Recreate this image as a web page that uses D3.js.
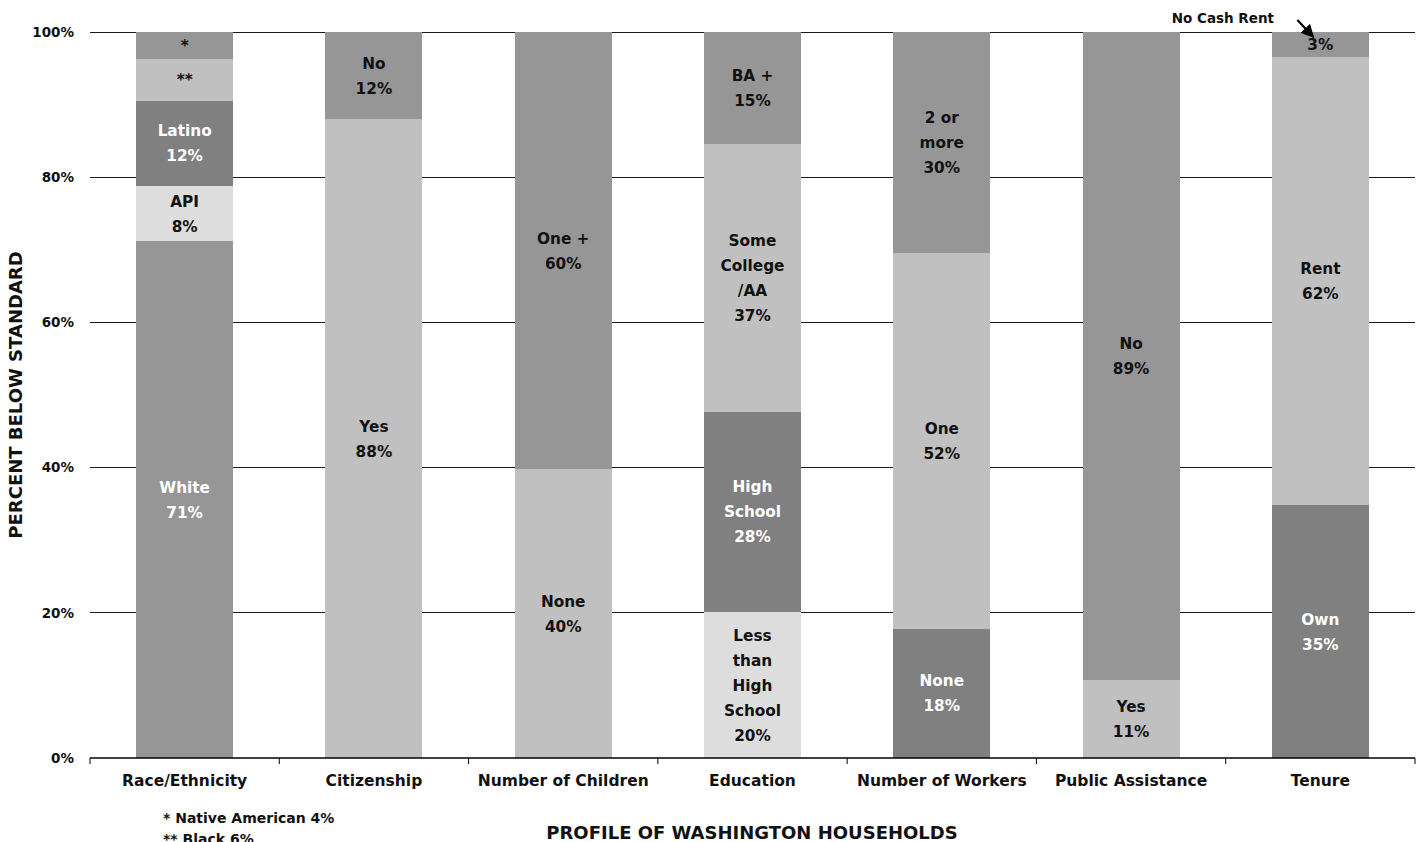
<!DOCTYPE html>
<html>
<head>
<meta charset="utf-8">
<script src="https://cdn.jsdelivr.net/npm/d3@7"></script>
<style>
  html, body { margin: 0; padding: 0; background: #fff; }
  svg { display: block; }
  svg text { font-family: "DejaVu Sans", Verdana, sans-serif; font-weight: bold; }
</style>
</head>
<body>
<svg id="chart" width="1421" height="842"></svg>
<script>
// Household profile categories along the x axis
const categories = ["Race/Ethnicity", "Citizenship", "Number of Children", "Education",
                    "Number of Workers", "Public Assistance", "Tenure"];

// Share of households below the standard, stacked bottom to top (percent)
const raceValues      = [71.2, 7.6, 11.7, 5.8, 3.7];
const citizenValues   = [88.0, 12.0];
const childrenValues  = [39.8, 60.2];
const educationValues = [20.1, 27.6, 36.9, 15.4];
const workersValues   = [17.8, 51.8, 30.4];
const assistValues    = [10.7, 89.3];
const tenureValues    = [34.8, 61.8, 3.4];

// Segment names (line breaks marked with "|")
const raceNames      = ["White", "API", "Latino", "**", "*"];
const citizenNames   = ["Yes", "No"];
const childrenNames  = ["None", "One +"];
const educationNames = ["Less|than|High|School", "High|School", "Some|College|/AA", "BA +"];
const workersNames   = ["None", "One", "2 or|more"];
const assistNames    = ["Yes", "No"];
const tenureNames    = ["Own", "Rent", ""];

// Fill shade per segment
const raceShades      = ["mid", "pale", "dark", "light", "mid"];
const citizenShades   = ["light", "mid"];
const childrenShades  = ["light", "mid"];
const educationShades = ["pale", "dark", "light", "mid"];
const workersShades   = ["dark", "light", "mid"];
const assistShades    = ["light", "mid"];
const tenureShades    = ["dark", "light", "mid"];

// Segments whose label carries no percentage line
const nameOnly = new Set(["*", "**"]);

const yTicks = [0, 20, 40, 60, 80, 100];
const yTickLabels = ["0%", "20%", "40%", "60%", "80%", "100%"];

const shadeFill = { pale: "#dddddd", light: "#c0c0c0", mid: "#969696", dark: "#808080" };

const groups = [
  [raceValues, raceNames, raceShades],
  [citizenValues, citizenNames, citizenShades],
  [childrenValues, childrenNames, childrenShades],
  [educationValues, educationNames, educationShades],
  [workersValues, workersNames, workersShades],
  [assistValues, assistNames, assistShades],
  [tenureValues, tenureNames, tenureShades]
];

// Flatten into stacked segments
const segments = [];
groups.forEach(([vals, names, shades], gi) => {
  let base = 0;
  vals.forEach((v, i) => {
    segments.push({
      cat: categories[gi], name: names[i], shade: shades[i],
      y0: base, y1: base + v, value: v
    });
    base += v;
  });
});

const svg = d3.select("#chart");
const plotLeft = 90, plotRight = 1415, plotTop = 32, plotBottom = 758;

const x = d3.scaleBand().domain(categories).range([plotLeft, plotRight])
  .paddingInner(0.487).paddingOuter(0.2435);
const xAxisBand = d3.scaleBand().domain(categories).range([plotLeft, plotRight]).padding(0);
const y = d3.scaleLinear().domain([0, 100]).range([plotBottom, plotTop]);

// Gridlines
svg.append("g").selectAll("line").data(yTicks.filter(d => d > 0)).join("line")
  .attr("x1", plotLeft).attr("x2", plotRight)
  .attr("y1", d => y(d)).attr("y2", d => y(d))
  .attr("stroke", "#1a1a1a").attr("stroke-width", 1).attr("shape-rendering", "crispEdges");

// Stacked bars
svg.append("g").selectAll("rect").data(segments).join("rect")
  .attr("x", d => x(d.cat))
  .attr("width", x.bandwidth())
  .attr("y", d => y(d.y1))
  .attr("height", d => y(d.y0) - y(d.y1))
  .attr("fill", d => shadeFill[d.shade])
  .attr("shape-rendering", "crispEdges");

// Segment labels
const lineH = 25;
const labelG = svg.append("g").attr("text-anchor", "middle");
segments.forEach(d => {
  const lines = d.name ? d.name.split("|") : [];
  if (!nameOnly.has(d.name)) lines.push(Math.round(d.value) + "%");
  const cx = x(d.cat) + x.bandwidth() / 2;
  const cy = (y(d.y0) + y(d.y1)) / 2;
  const whiteText = d.shade === "dark" || d.name === "White";
  const t = labelG.append("text")
    .style("font-size", "15.3px")
    .attr("fill", whiteText ? "#ffffff" : "#111111");
  lines.forEach((ln, i) => {
    t.append("tspan")
      .attr("x", cx)
      .attr("y", cy + (i - (lines.length - 1) / 2) * lineH)
      .attr("dy", "0.36em")
      .text(ln);
  });
});

// Y axis labels
const yAxis = d3.axisLeft(y).tickValues(yTicks)
  .tickFormat((d, i) => yTickLabels[i]).tickSize(0).tickPadding(16);
const yg = svg.append("g").attr("transform", `translate(${plotLeft},0)`).call(yAxis)
  .attr("font-family", null).attr("font-size", null);
yg.select(".domain").remove();
yg.selectAll("text").style("font-size", "13.5px").attr("fill", "#111");

// X axis: baseline, boundary ticks, category labels
const xAxis = d3.axisBottom(xAxisBand).tickSize(0).tickPadding(17);
const xg = svg.append("g").attr("transform", `translate(0,${plotBottom})`).call(xAxis)
  .attr("font-family", null).attr("font-size", null);
xg.select(".domain").remove();
xg.selectAll("text").style("font-size", "15.5px").attr("fill", "#111");
xg.append("line").attr("x1", plotLeft).attr("x2", plotRight).attr("y1", 0).attr("y2", 0)
  .attr("stroke", "#000").attr("stroke-width", 1.3);
const bounds = categories.map(c => xAxisBand(c)).concat([plotRight]);
xg.selectAll(".bound").data(bounds).join("line").attr("class", "bound")
  .attr("x1", d => d).attr("x2", d => d).attr("y1", 0).attr("y2", 6)
  .attr("stroke", "#000").attr("stroke-width", 1);

// Axis titles
svg.append("text")
  .attr("transform", `translate(22,${(plotTop + plotBottom) / 2}) rotate(-90)`)
  .attr("text-anchor", "middle").style("font-size", "18px").attr("fill", "#111")
  .text("PERCENT BELOW STANDARD");
svg.append("text")
  .attr("x", 752).attr("y", 839).attr("text-anchor", "middle")
  .style("font-size", "18px").attr("fill", "#111")
  .text("PROFILE OF WASHINGTON HOUSEHOLDS");

// Footnotes for the small race/ethnicity segments
const notes = ["* Native American 4%", "** Black 6%"];
svg.append("g").selectAll("text").data(notes).join("text")
  .attr("x", 163).attr("y", (d, i) => 823 + i * 21)
  .style("font-size", "14px").attr("fill", "#111").text(d => d);

// Callout for the small tenure segment
const ncr = segments.find(s => s.cat === "Tenure" && s.name === "");
const ncrX = x("Tenure") + x.bandwidth() / 2;
svg.append("text").attr("x", 1274).attr("y", 23).attr("text-anchor", "end")
  .style("font-size", "13.5px").attr("fill", "#111").text("No Cash Rent");
svg.append("defs").append("marker")
  .attr("id", "arrowhead").attr("viewBox", "0 0 10 10")
  .attr("refX", 9).attr("refY", 5).attr("markerWidth", 6).attr("markerHeight", 6)
  .attr("orient", "auto")
  .append("path").attr("d", "M0,0 L10,5 L0,10 Z").attr("fill", "#000");
svg.append("line")
  .attr("x1", ncrX - 23).attr("y1", 20)
  .attr("x2", ncrX - 7).attr("y2", y(ncr.y1) + 5)
  .attr("stroke", "#000").attr("stroke-width", 2.2)
  .attr("marker-end", "url(#arrowhead)");
</script>
</body>
</html>
